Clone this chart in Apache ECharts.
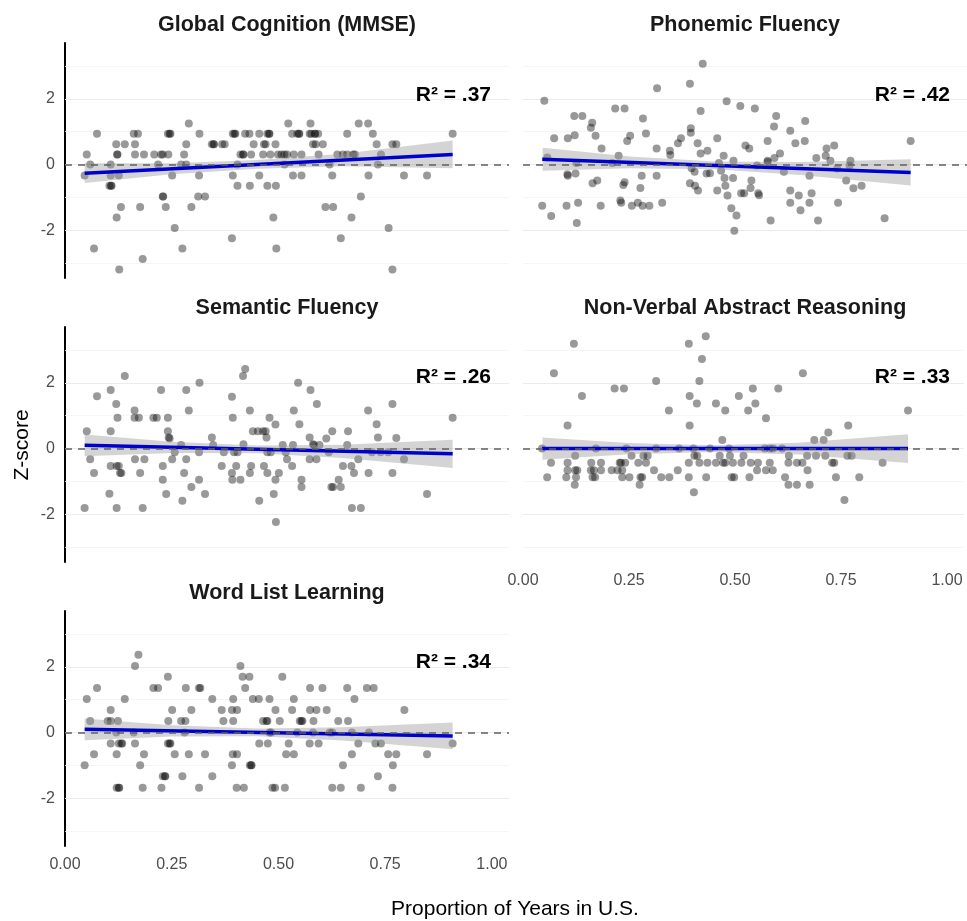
<!DOCTYPE html>
<html>
<head>
<meta charset="utf-8">
<script src="https://cdn.jsdelivr.net/npm/echarts@6/dist/echarts.min.js"></script>
<style>
html, body { margin: 0; padding: 0; background: #fff; }
#chart { width: 967px; height: 921px; }
</style>
</head>
<body>
<div id="chart"></div>
<script>
// panel titles and fit statistics
const titles = ['Global Cognition (MMSE)', 'Phonemic Fluency', 'Semantic Fluency', 'Non-Verbal Abstract Reasoning', 'Word List Learning'];
const r2Labels = ['R² = .37', 'R² = .42', 'R² = .26', 'R² = .33', 'R² = .34'];
const xTicks = [0, 0.25, 0.5, 0.75, 1];
const yMajor = [-2, 0, 2];
const yMinor = [-3, -1, 1, 3];

// x positions where the confidence band edges were read
const bandX = [0.046, 0.25, 0.45, 0.65, 0.908];

const mmsePoints = [
  [0.290,1.25],[0.523,1.25],[0.575,1.25],[0.688,1.25],[0.710,1.25],
  [0.075,0.94],[0.161,0.94],[0.171,0.94],[0.241,0.94],[0.245,0.94],[0.247,0.94],[0.315,0.94],[0.393,0.94],[0.397,0.94],[0.399,0.94],
  [0.422,0.94],[0.432,0.94],[0.455,0.94],[0.474,0.94],[0.478,0.94],[0.479,0.94],[0.532,0.94],[0.544,0.94],[0.548,0.94],[0.549,0.94],
  [0.573,0.94],[0.577,0.94],[0.585,0.94],[0.586,0.94],[0.593,0.94],[0.661,0.94],[0.721,0.94],[0.908,0.94],
  [0.120,0.62],[0.140,0.62],[0.164,0.62],[0.284,0.62],[0.344,0.62],[0.348,0.62],[0.349,0.62],[0.368,0.62],[0.374,0.62],[0.442,0.62],
  [0.466,0.62],[0.470,0.62],[0.493,0.62],[0.581,0.62],[0.587,0.62],[0.604,0.62],[0.730,0.62],[0.767,0.62],[0.776,0.62],
  [0.051,0.31],[0.122,0.31],[0.123,0.31],[0.164,0.31],[0.185,0.31],[0.209,0.31],[0.225,0.31],[0.229,0.31],[0.242,0.31],[0.279,0.31],
  [0.411,0.31],[0.417,0.31],[0.418,0.31],[0.436,0.31],[0.464,0.31],[0.481,0.31],[0.499,0.31],[0.507,0.31],[0.514,0.31],[0.520,0.31],
  [0.536,0.31],[0.554,0.31],[0.594,0.31],[0.638,0.31],[0.651,0.31],[0.661,0.31],[0.675,0.31],[0.679,0.31],[0.740,0.31],
  [0.059,0],[0.107,0],[0.218,0],[0.272,0],[0.284,0],[0.404,0],[0.514,0],[0.620,0],[0.733,0],
  [0.046,-0.33],[0.107,-0.33],[0.126,-0.33],[0.251,-0.33],[0.314,-0.33],[0.393,-0.33],[0.455,-0.33],[0.534,-0.33],[0.554,-0.33],
  [0.626,-0.33],[0.711,-0.33],[0.794,-0.33],[0.848,-0.33],
  [0.104,-0.64],[0.108,-0.64],[0.109,-0.64],[0.404,-0.64],[0.433,-0.64],[0.474,-0.64],[0.494,-0.64],
  [0.229,-0.97],[0.230,-0.97],[0.312,-0.97],[0.328,-0.97],[0.693,-0.97],
  [0.131,-1.29],[0.176,-1.29],[0.236,-1.29],[0.296,-1.29],[0.610,-1.29],[0.628,-1.29],
  [0.121,-1.61],[0.488,-1.61],[0.671,-1.61],
  [0.257,-1.93],[0.758,-1.93],
  [0.391,-2.24],[0.646,-2.24],
  [0.068,-2.55],[0.275,-2.55],[0.495,-2.55],
  [0.182,-2.87],
  [0.127,-3.19],[0.767,-3.19]
];
const mmseFit = [[0.046,-0.26],[0.908,0.31]];
const mmseLo = [-0.56,-0.295,-0.123,-0.051,-0.11];
const mmseHi = [0.04,0.045,0.137,0.329,0.73];

const phonPoints = [
  [0.050,1.94],[0.421,3.07],[0.314,2.32],[0.391,2.46],[0.216,1.71],[0.238,1.71],[0.477,1.93],[0.509,1.78],[0.543,1.71],[0.416,1.63],
  [0.120,1.48],[0.139,1.48],[0.281,1.40],[0.593,1.48],[0.162,1.27],[0.159,1.12],[0.588,1.16],[0.661,1.33],[0.626,1.03],
  [0.073,0.80],[0.105,0.80],[0.121,0.89],[0.170,0.88],[0.244,0.72],[0.251,0.88],[0.288,0.95],[0.393,1.11],[0.393,0.97],[0.370,0.80],
  [0.363,0.65],[0.409,0.65],[0.455,0.80],[0.573,0.72],[0.638,0.65],[0.660,0.72],[0.184,0.49],[0.313,0.49],[0.344,0.42],[0.345,0.29],
  [0.416,0.34],[0.432,0.42],[0.521,0.58],[0.530,0.49],[0.711,0.49],[0.729,0.58],[0.057,0.22],[0.224,0.27],[0.470,0.27],[0.493,0.12],
  [0.602,0.34],[0.589,0.20],[0.573,0.12],[0.687,0.20],[0.709,0.27],[0.720,0.12],[0.767,0.12],[0.125,0.05],[0.209,0.05],[0.459,0.05],
  [0.573,0.08],[0.548,-0.03],[0.765,-0.03],[0.395,-0.11],[0.464,-0.19],[0.611,-0.22],[0.736,-0.12],[0.104,-0.29],[0.105,-0.34],
  [0.123,-0.27],[0.278,-0.34],[0.313,-0.34],[0.402,-0.22],[0.430,-0.27],[0.438,-0.26],[0.671,-0.34],[0.472,-0.41],[0.492,-0.41],
  [0.535,-0.48],[0.474,-0.64],[0.757,-0.48],[0.163,-0.57],[0.174,-0.48],[0.238,-0.54],[0.235,-0.62],[0.275,-0.71],[0.391,-0.57],
  [0.403,-0.64],[0.410,-0.79],[0.455,-0.79],[0.479,-0.94],[0.511,-0.87],[0.518,-0.87],[0.533,-0.71],[0.551,-0.87],[0.553,-0.93],
  [0.626,-0.79],[0.646,-0.94],[0.676,-0.87],[0.774,-0.72],[0.793,-0.64],[0.045,-1.25],[0.102,-1.25],[0.129,-1.16],[0.182,-1.25],
  [0.228,-1.09],[0.230,-1.16],[0.255,-1.25],[0.269,-1.16],[0.280,-1.25],[0.296,-1.25],[0.326,-1.16],[0.626,-1.16],[0.671,-1.16],
  [0.738,-1.16],[0.066,-1.56],[0.488,-1.33],[0.500,-1.55],[0.650,-1.39],[0.126,-1.78],[0.580,-1.70],[0.691,-1.70],[0.847,-1.63],
  [0.495,-2.01],[0.908,0.72]
];
const phonFit = [[0.045,0.165],[0.908,-0.237]];
const phonLo = [-0.185,-0.111,-0.144,-0.317,-0.637];
const phonHi = [0.515,0.249,0.096,0.083,0.163];

const semPoints = [
  [0.046,-1.81],[0.051,0.53],[0.059,-0.32],[0.068,-0.74],[0.075,1.59],[0.104,-1.37],[0.107,1.78],[0.107,0.53],[0.107,-0.53],
  [0.120,1.36],[0.121,-0.53],[0.123,0.94],[0.121,-1.81],[0.126,-0.53],[0.129,-0.74],[0.132,-0.74],[0.140,2.21],[0.163,1.16],
  [0.164,-0.32],[0.163,0.94],[0.173,0.94],[0.176,-0.74],[0.182,-1.81],[0.186,-0.32],[0.207,0.94],[0.215,0.94],[0.225,1.78],
  [0.229,-0.53],[0.229,-0.95],[0.237,-1.38],[0.241,0.94],[0.241,0.53],[0.243,0.34],[0.245,0.31],[0.251,-0.32],[0.257,-0.11],
  [0.272,0.11],[0.275,-1.59],[0.279,-0.74],[0.284,1.78],[0.284,-0.32],[0.290,1.16],[0.296,-1.17],[0.314,-0.95],[0.315,2.0],
  [0.314,-0.11],[0.328,-1.38],[0.344,0.34],[0.347,0.11],[0.367,-0.53],[0.372,-0.11],[0.391,1.58],[0.393,0.94],[0.391,-0.74],
  [0.392,-0.95],[0.396,-0.11],[0.401,-0.53],[0.404,-0.11],[0.411,-0.95],[0.417,2.21],[0.418,0.13],[0.422,2.42],[0.433,1.16],
  [0.433,-0.74],[0.436,-0.53],[0.440,0.53],[0.455,-1.59],[0.452,0.53],[0.464,0.53],[0.466,-0.53],[0.470,0.53],[0.472,0.34],
  [0.474,-0.74],[0.474,-0.11],[0.479,0.94],[0.482,-0.11],[0.489,-1.38],[0.493,0.73],[0.493,-0.95],[0.494,-2.23],[0.501,-0.74],
  [0.510,0.11],[0.517,-0.11],[0.520,-0.32],[0.532,-0.53],[0.534,0.11],[0.536,1.16],[0.546,2.0],[0.549,0.74],[0.554,-0.95],
  [0.554,-1.17],[0.573,0.34],[0.575,1.78],[0.573,-0.32],[0.581,0.13],[0.583,0.11],[0.590,1.36],[0.589,-0.32],[0.596,0.11],
  [0.612,0.31],[0.618,-0.11],[0.626,0.53],[0.624,-1.17],[0.628,-1.17],[0.641,-0.95],[0.646,-1.17],[0.651,-0.53],[0.661,0.11],
  [0.663,0.53],[0.671,-0.53],[0.672,-1.81],[0.677,-0.74],[0.687,-0.32],[0.693,-1.81],[0.710,1.16],[0.711,-0.74],[0.719,-0.11],
  [0.730,0.74],[0.733,0.34],[0.739,-0.11],[0.757,-0.11],[0.767,1.36],[0.767,-0.74],[0.776,0.32],[0.794,-0.32],[0.848,-1.38],
  [0.908,0.94]
];
const semFit = [[0.046,0.10],[0.908,-0.16]];
const semLo = [-0.23,-0.132,-0.142,-0.282,-0.59];
const semHi = [0.43,0.208,0.098,0.118,0.27];

const nvarPoints = [
  [0.120,3.19],[0.431,3.42],[0.391,3.19],[0.422,2.73],[0.073,2.29],[0.660,2.29],[0.314,2.06],[0.416,2.06],[0.216,1.83],[0.238,1.83],
  [0.542,1.83],[0.602,1.83],[0.139,1.60],[0.393,1.60],[0.509,1.60],[0.410,1.37],[0.455,1.37],[0.548,1.37],[0.477,1.16],[0.531,1.16],
  [0.344,1.16],[0.908,1.16],[0.573,0.92],[0.105,0.70],[0.393,0.70],[0.767,0.70],[0.720,0.49],[0.687,0.26],[0.709,0.26],[0.470,0.26],
  [0.045,0],[0.172,0],[0.244,0],[0.314,0],[0.368,0],[0.402,0],[0.441,0],[0.486,0],[0.570,0],[0.582,0],[0.590,0],[0.611,0],
  [0.123,-0.22],[0.256,-0.22],[0.284,-0.22],[0.294,-0.22],[0.404,-0.22],[0.411,-0.22],[0.464,-0.22],[0.488,-0.22],[0.520,-0.22],
  [0.627,-0.22],[0.670,-0.22],[0.691,-0.22],[0.713,-0.22],[0.765,-0.22],[0.775,-0.22],
  [0.066,-0.43],[0.105,-0.43],[0.161,-0.43],[0.184,-0.43],[0.228,-0.43],[0.231,-0.43],[0.241,-0.43],[0.272,-0.43],[0.290,-0.43],
  [0.391,-0.43],[0.416,-0.43],[0.435,-0.43],[0.455,-0.43],[0.472,-0.43],[0.477,-0.43],[0.495,-0.43],[0.515,-0.43],[0.537,-0.43],
  [0.554,-0.43],[0.582,-0.43],[0.626,-0.43],[0.646,-0.43],[0.659,-0.43],[0.729,-0.43],[0.734,-0.43],[0.848,-0.43],
  [0.105,-0.66],[0.123,-0.66],[0.128,-0.66],[0.160,-0.66],[0.167,-0.66],[0.184,-0.66],[0.209,-0.66],[0.223,-0.66],[0.234,-0.66],
  [0.309,-0.66],[0.365,-0.66],[0.552,-0.66],[0.573,-0.66],[0.589,-0.66],[0.671,-0.66],
  [0.057,-0.87],[0.102,-0.87],[0.125,-0.87],[0.164,-0.87],[0.170,-0.87],[0.234,-0.87],[0.251,-0.87],[0.277,-0.87],[0.281,-0.87],
  [0.326,-0.87],[0.345,-0.87],[0.391,-0.87],[0.432,-0.87],[0.492,-0.87],[0.498,-0.87],[0.534,-0.87],[0.618,-0.87],[0.738,-0.87],
  [0.793,-0.87],
  [0.122,-1.10],[0.275,-1.10],[0.626,-1.10],[0.646,-1.10],[0.676,-1.10],
  [0.403,-1.33],[0.758,-1.56]
];
const nvarFit = [[0.045,0],[0.908,0]];
const nvarLo = [-0.34,-0.17,-0.1,-0.18,-0.44];
const nvarHi = [0.34,0.17,0.1,0.18,0.44];

const wllPoints = [
  [0.172,2.37],
  [0.164,2.03],[0.411,2.03],
  [0.241,1.70],[0.416,1.70],[0.432,1.70],[0.509,1.70],
  [0.075,1.36],[0.207,1.36],[0.218,1.36],[0.283,1.36],[0.314,1.36],[0.317,1.36],[0.422,1.36],[0.574,1.36],[0.603,1.36],[0.661,1.36],
  [0.707,1.36],[0.723,1.36],
  [0.051,1.02],[0.140,1.02],[0.345,1.02],[0.394,1.02],[0.440,1.02],[0.454,1.02],[0.479,1.02],[0.536,1.02],[0.678,1.02],
  [0.107,0.69],[0.251,0.69],[0.296,0.69],[0.367,0.69],[0.391,0.69],[0.403,0.69],[0.493,0.69],[0.532,0.69],[0.574,0.69],[0.589,0.69],
  [0.613,0.69],[0.795,0.69],
  [0.059,0.35],[0.100,0.35],[0.107,0.35],[0.124,0.35],[0.242,0.35],[0.272,0.35],[0.282,0.35],[0.371,0.35],[0.394,0.35],[0.464,0.35],
  [0.472,0.35],[0.474,0.35],[0.503,0.35],[0.550,0.35],[0.554,0.35],[0.556,0.35],[0.582,0.35],[0.640,0.35],[0.663,0.35],
  [0.120,0],[0.161,0],[0.280,0],[0.479,0],[0.483,0],[0.544,0],[0.581,0],[0.620,0],[0.626,0],[0.672,0],[0.712,0],
  [0.107,-0.33],[0.126,-0.33],[0.132,-0.33],[0.134,-0.33],[0.164,-0.33],[0.241,-0.33],[0.245,-0.33],[0.247,-0.33],[0.455,-0.33],
  [0.475,-0.33],[0.524,-0.33],[0.573,-0.33],[0.594,-0.33],[0.687,-0.33],[0.727,-0.33],[0.740,-0.33],[0.908,-0.33],
  [0.068,-0.66],[0.121,-0.66],[0.185,-0.66],[0.257,-0.66],[0.290,-0.66],[0.328,-0.66],[0.393,-0.66],[0.403,-0.66],[0.518,-0.66],
  [0.536,-0.66],[0.672,-0.66],[0.757,-0.66],[0.776,-0.66],[0.848,-0.66],
  [0.046,-0.99],[0.176,-0.99],[0.391,-0.99],[0.433,-0.99],[0.436,-0.99],[0.437,-0.99],[0.651,-0.99],[0.768,-0.99],
  [0.229,-1.33],[0.234,-1.33],[0.235,-1.33],[0.275,-1.33],[0.345,-1.33],[0.733,-1.33],
  [0.121,-1.68],[0.126,-1.68],[0.127,-1.68],[0.182,-1.68],[0.226,-1.68],[0.314,-1.68],[0.402,-1.68],[0.419,-1.68],[0.486,-1.68],
  [0.492,-1.68],[0.515,-1.68],[0.626,-1.68],[0.646,-1.68],[0.693,-1.68],[0.767,-1.68]
];
const wllFit = [[0.046,0.10],[0.908,-0.10]];
const wllLo = [-0.23,-0.117,-0.114,-0.24,-0.51];
const wllHi = [0.43,0.223,0.126,0.16,0.31];

const panels = [
  { points: mmsePoints, fit: mmseFit, lo: mmseLo, hi: mmseHi },
  { points: phonPoints, fit: phonFit, lo: phonLo, hi: phonHi },
  { points: semPoints, fit: semFit, lo: semLo, hi: semHi },
  { points: nvarPoints, fit: nvarFit, lo: nvarLo, hi: nvarHi },
  { points: wllPoints, fit: wllFit, lo: wllLo, hi: wllHi }
];

// layout (pixels)
const gridBoxes = [
  { left: 65, top: 43 }, { left: 523, top: 43 },
  { left: 65, top: 327 }, { left: 523, top: 327 },
  { left: 65, top: 611 }
];
const panelW = 444, panelH = 235;
const fontFamily = "'Liberation Sans', Arial, Helvetica, sans-serif";
const labelColor = '#4d4d4d';

const chart = echarts.init(document.getElementById('chart'), null, { renderer: 'canvas' });

const grid = gridBoxes.map(b => ({ left: b.left, top: b.top, width: panelW, height: panelH }));

const xAxis = gridBoxes.map((b, i) => ({
  type: 'value', gridIndex: i, min: 0, max: 1.04, interval: 0.25,
  axisLine: { show: false }, axisTick: { show: false }, splitLine: { show: false },
  axisLabel: {
    show: i >= 3, color: labelColor, fontSize: 16, fontFamily: fontFamily, margin: 11,
    formatter: v => xTicks.some(t => Math.abs(t - v) < 1e-6) ? v.toFixed(2) : ''
  }
}));

const yAxis = gridBoxes.map((b, i) => ({
  type: 'value', gridIndex: i, min: -3.45, max: 3.7,
  axisLine: { show: i % 2 === 0, onZero: false, lineStyle: { color: '#000', width: 2 } },
  axisTick: { show: false }, splitLine: { show: false },
  axisLabel: {
    show: i % 2 === 0, color: labelColor, fontSize: 16, fontFamily: fontFamily, margin: 10,
    formatter: v => yMajor.some(t => Math.abs(t - v) < 1e-6) ? String(v) : ''
  }
}));

// confidence band polygon built from the read band edges
function bandRenderer(p) {
  return function (params, api) {
    const upper = bandX.map((x, k) => api.coord([x, p.hi[k]]));
    const lower = bandX.map((x, k) => api.coord([x, p.lo[k]])).reverse();
    return {
      type: 'polygon',
      shape: { points: upper.concat(lower) },
      style: { fill: 'rgba(153,153,153,0.42)' }
    };
  };
}

const series = [];
panels.forEach((p, i) => {
  series.push({
    type: 'line', xAxisIndex: i, yAxisIndex: i, data: [], silent: true,
    markLine: {
      silent: true, symbol: ['none', 'none'], label: { show: false }, z: 1, animation: false,
      data: yMajor.map(v => ({ yAxis: v, lineStyle: { color: '#ebebeb', width: 1.2, type: 'solid' } }))
        .concat(yMinor.map(v => ({ yAxis: v, lineStyle: { color: '#f2f2f2', width: 0.8, type: 'solid' } })))
    }
  });
  series.push({
    type: 'scatter', xAxisIndex: i, yAxisIndex: i, data: p.points, symbolSize: 8, z: 2, silent: true,
    itemStyle: { color: 'rgba(0,0,0,0.5)' }
  });
  series.push({
    type: 'custom', xAxisIndex: i, yAxisIndex: i, z: 3, silent: true,
    data: [p.fit[0]],
    renderItem: bandRenderer(p)
  });
  series.push({
    type: 'line', xAxisIndex: i, yAxisIndex: i, data: p.fit, symbol: 'none', silent: true, z: 4,
    lineStyle: { color: '#0000cc', width: 3.5 },
    markLine: {
      silent: true, symbol: ['none', 'none'], label: { show: false }, z: 10, animation: false,
      lineStyle: { color: '#606060', width: 1.7, type: [7, 6] },
      data: [{ yAxis: 0 }]
    }
  });
});

const graphic = [];
const titleCenters = [[287, 25], [745, 25], [287, 308], [745, 308], [287, 593]];
const r2Anchors = [[491, 95], [950, 95], [491, 377], [950, 377], [491, 662]];
titles.forEach((t, i) => {
  graphic.push({
    type: 'text', x: titleCenters[i][0], y: titleCenters[i][1], z: 20,
    style: { text: t, fill: '#1a1a1a', font: 'bold 21.5px ' + fontFamily, textAlign: 'center', textVerticalAlign: 'middle' }
  });
  graphic.push({
    type: 'text', x: r2Anchors[i][0], y: r2Anchors[i][1], z: 20,
    style: { text: r2Labels[i], fill: '#000', font: 'bold 21px ' + fontFamily, textAlign: 'right', textVerticalAlign: 'middle' }
  });
});
graphic.push({
  type: 'text', x: 515, y: 909, z: 20,
  style: { text: 'Proportion of Years in U.S.', fill: '#000', font: '21px ' + fontFamily, textAlign: 'center', textVerticalAlign: 'middle' }
});
graphic.push({
  type: 'text', x: 22, y: 445, rotation: Math.PI / 2, z: 20,
  style: { text: 'Z-score', fill: '#000', font: '21px ' + fontFamily, textAlign: 'center', textVerticalAlign: 'middle' }
});

chart.setOption({
  animation: false,
  backgroundColor: '#fff',
  grid: grid,
  xAxis: xAxis,
  yAxis: yAxis,
  series: series,
  graphic: graphic
});
</script>
</body>
</html>
